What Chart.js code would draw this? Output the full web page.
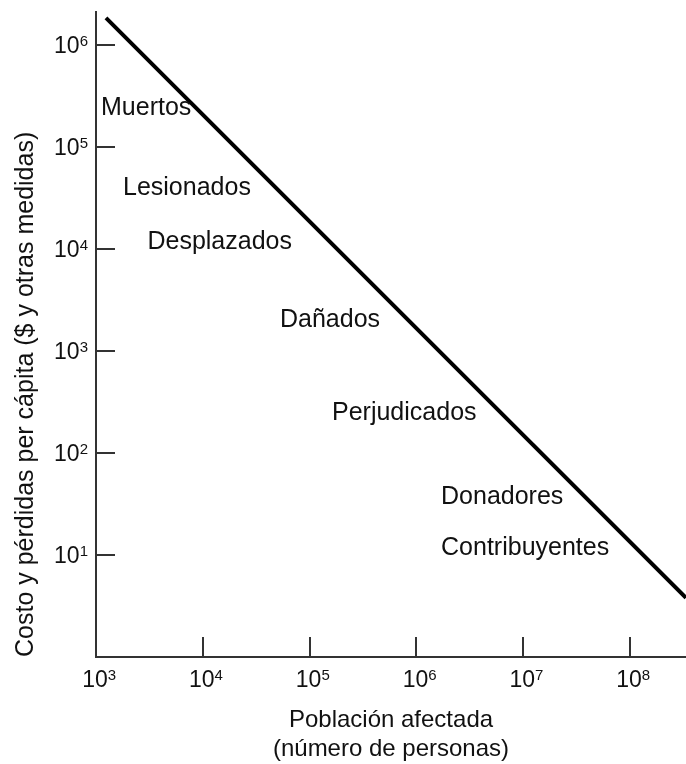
<!DOCTYPE html>
<html lang="es">
<head>
<meta charset="utf-8">
<title>Costo per cápita y población afectada</title>
<script src="https://cdn.jsdelivr.net/npm/chart.js@4.4.0/dist/chart.umd.min.js"></script>
<style>
  html, body { margin: 0; padding: 0; background: #fff; }
  #wrap { width: 686px; height: 764px; }
</style>
</head>
<body>
<div id="wrap"><canvas id="myChart" width="686" height="764"></canvas></div>
<script>
// eje x: población afectada, eje y: costo per cápita (ambos logarítmicos)
var xTicks = [1e3, 1e4, 1e5, 1e6, 1e7, 1e8]
var yTicks = [1e1, 1e2, 1e3, 1e4, 1e5, 1e6]
var xRange = [1e3, 3.34e8]
var yRange = [1, 2.1e6]

// recta costo x población ~ constante
var lineX = [1240, 3.34e8]
var lineY = [1.84e6, 3.8]

// rótulos de cada grupo afectado
var groupNames = ["Muertos", "Lesionados", "Desplazados", "Dañados", "Perjudicados", "Donadores", "Contribuyentes"]
var groupX = [1114, 1790, 3030, 52800, 162000, 1.7e6, 1.7e6]
var groupY = [2.41e5, 3.96e4, 1.17e4, 2010, 247, 37, 11.7]

var fontFam = "'Liberation Sans', Arial, Helvetica, sans-serif"
var ink = "#111"

function expOf(v) {
    return Math.round(Math.log10(v)).toString()
}

// "10" con el exponente en superíndice; ax = 'right' o 'center'
function drawPow(ctx, v, x, y, ax) {
    var base = "10", ex = expOf(v)
    ctx.font = "23px " + fontFam
    var wb = ctx.measureText(base).width
    ctx.font = "15px " + fontFam
    var we = ctx.measureText(ex).width
    var x0 = ax == 'right' ? x - wb - we : x - wb / 2
    ctx.textAlign = "left"
    ctx.textBaseline = "alphabetic"
    ctx.font = "23px " + fontFam
    ctx.fillText(base, x0, y + 8)
    ctx.font = "15px " + fontFam
    ctx.fillText(ex, x0 + wb, y + 1)
}

// marcas de escala hacia adentro, números de los ejes y rótulos de los grupos
var innerTicks = {
    id: 'innerTicks',
    afterDraw: function (chart) {
        var ctx = chart.ctx
        var xs = chart.scales.x, ys = chart.scales.y
        var area = chart.chartArea
        ctx.save()
        ctx.strokeStyle = "#333"
        ctx.lineWidth = 2
        ctx.beginPath()
        xTicks.forEach(function (v) {
            if (v <= xRange[0]) return
            var px = Math.round(xs.getPixelForValue(v))
            ctx.moveTo(px, area.bottom)
            ctx.lineTo(px, area.bottom - 20)
        })
        yTicks.forEach(function (v) {
            var py = Math.round(ys.getPixelForValue(v))
            ctx.moveTo(area.left, py)
            ctx.lineTo(area.left + 19, py)
        })
        ctx.stroke()

        ctx.fillStyle = ink
        xTicks.forEach(function (v) {
            drawPow(ctx, v, xs.getPixelForValue(v) - 1, area.bottom + 22, 'center')
        })
        yTicks.forEach(function (v) {
            drawPow(ctx, v, area.left - 8, ys.getPixelForValue(v), 'right')
        })

        ctx.font = "25px " + fontFam
        ctx.textAlign = "left"
        ctx.textBaseline = "middle"
        groupNames.forEach(function (name, i) {
            ctx.fillText(name, xs.getPixelForValue(groupX[i]), ys.getPixelForValue(groupY[i]))
        })
        ctx.restore()
    }
}

var ctx = document.getElementById("myChart")
var myChart = new Chart(ctx, {
    type: 'scatter',
    data: {
        datasets: [{
            data: lineX.map(function (x, i) { return { x: x, y: lineY[i] } }),
            showLine: true,
            borderColor: '#000',
            borderWidth: 4,
            pointRadius: 0,
            fill: false
        }]
    },
    options: {
        responsive: false,
        animation: false,
        layout: { padding: { top: 12, right: 0, left: 0, bottom: 0 } },
        plugins: {
            legend: { display: false },
            tooltip: { enabled: false }
        },
        scales: {
            x: {
                type: 'logarithmic',
                min: xRange[0],
                max: xRange[1],
                afterBuildTicks: function (scale) {
                    scale.ticks = xTicks.map(function (v) { return { value: v } })
                },
                afterFit: function (scale) { scale.height = 107 },
                grid: { display: false },
                border: { display: true, color: '#333', width: 2 },
                ticks: { display: false },
                title: {
                    display: true,
                    text: ["Población afectada", "(número de personas)"],
                    color: ink,
                    font: { family: fontFam, size: 24, lineHeight: 29 / 24 },
                    padding: { top: 0, bottom: 0 }
                }
            },
            y: {
                type: 'logarithmic',
                min: yRange[0],
                max: yRange[1],
                afterBuildTicks: function (scale) {
                    scale.ticks = yTicks.map(function (v) { return { value: v } })
                },
                afterFit: function (scale) { scale.width = 96 },
                grid: { display: false },
                border: { display: true, color: '#333', width: 2 },
                ticks: { display: false },
                title: {
                    display: true,
                    align: 'start',
                    text: "Costo y pérdidas per cápita ($ y otras medidas)",
                    color: ink,
                    font: { family: fontFam, size: 25, lineHeight: 29 / 25 },
                    padding: { top: 12, bottom: 0 }
                }
            }
        }
    },
    plugins: [innerTicks]
})
</script>
</body>
</html>
